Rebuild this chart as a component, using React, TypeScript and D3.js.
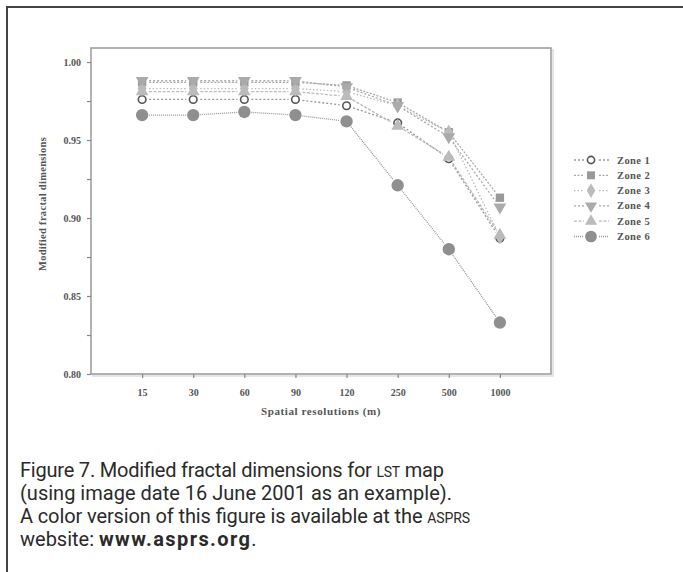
import React, { useEffect, useRef } from "react";
import * as d3 from "d3";

const resolutions = ["15", "30", "60", "90", "120", "250", "500", "1000"];
const zoneNames = ["Zone 1", "Zone 2", "Zone 3", "Zone 4", "Zone 5", "Zone 6"];
const zone1 = [0.976, 0.976, 0.976, 0.976, 0.972, 0.961, 0.938, 0.887];
const zone2 = [0.987, 0.987, 0.987, 0.987, 0.985, 0.974, 0.955, 0.913];
const zone3 = [0.983, 0.983, 0.983, 0.983, 0.981, 0.972, 0.955, 0.888];
const zone4 = [0.988, 0.988, 0.988, 0.988, 0.984, 0.972, 0.952, 0.907];
const zone5 = [0.981, 0.981, 0.981, 0.981, 0.978, 0.959, 0.939, 0.889];
const zone6 = [0.966, 0.966, 0.968, 0.966, 0.962, 0.921, 0.88, 0.833];
const yTickLabels = ["0.80", "0.85", "0.90", "0.95", "1.00"];

const App = () => {
  const svgRef = useRef(null);

  useEffect(() => {
    const svg = d3.select(svgRef.current);
    svg.selectAll("*").remove();

    const left = 91, right = 551, top = 48, bottom = 374;
    const serif = "'Liberation Serif', 'DejaVu Serif', serif";

    const x = d3.scaleLinear().domain([0, resolutions.length + 1]).range([left, right]);
    const y = d3.scaleLinear().domain([0.8, 1.009]).range([bottom, top]);

    // outer frame (only top + left edge visible)
    svg.append("line").attr("x1", 6).attr("x2", 683).attr("y1", 7).attr("y2", 7)
      .attr("stroke", "#444").attr("stroke-width", 2);
    svg.append("line").attr("x1", 7).attr("x2", 7).attr("y1", 7).attr("y2", 572)
      .attr("stroke", "#444").attr("stroke-width", 2);

    // plot box with a faint shadow
    svg.append("rect").attr("x", left + 2).attr("y", top + 2)
      .attr("width", right - left).attr("height", bottom - top)
      .attr("fill", "none").attr("stroke", "#ddd").attr("stroke-width", 1.5);
    svg.append("rect").attr("x", left).attr("y", top)
      .attr("width", right - left).attr("height", bottom - top)
      .attr("fill", "#fff").attr("stroke", "#999").attr("stroke-width", 1.5);

    // y axis
    const yTicks = d3.range(0, 9).map((i) => 0.8 + i * 0.025);
    const yAxis = svg.append("g")
      .attr("transform", "translate(" + left + ",0)")
      .call(d3.axisLeft(y).tickValues(yTicks).tickSize(4).tickSizeOuter(0)
        .tickFormat((d, i) => (i % 2 === 0 ? yTickLabels[i / 2] : "")));
    yAxis.select(".domain").remove();
    yAxis.selectAll("line").attr("stroke", "#888").attr("stroke-width", 1.2);
    yAxis.selectAll("text").attr("x", -10).style("font-family", serif)
      .style("font-size", "10px").style("font-weight", "bold").attr("fill", "#555");

    // x axis
    const xAxis = svg.append("g")
      .attr("transform", "translate(0," + bottom + ")")
      .call(d3.axisBottom(x).tickValues(d3.range(1, resolutions.length + 1))
        .tickSize(4).tickSizeOuter(0).tickFormat((d) => resolutions[d - 1]));
    xAxis.select(".domain").remove();
    xAxis.selectAll("line").attr("stroke", "#888").attr("stroke-width", 1.2);
    xAxis.selectAll("text").attr("y", 15).style("font-family", serif)
      .style("font-size", "10px").style("font-weight", "bold").attr("fill", "#555");

    svg.append("text").attr("x", 321).attr("y", 415).attr("text-anchor", "middle")
      .style("font-family", serif).style("font-size", "11px").style("font-weight", "bold")
      .style("letter-spacing", "0.6px").attr("fill", "#555").text("Spatial resolutions (m)");
    svg.append("text").attr("transform", "translate(46,204) rotate(-90)")
      .attr("text-anchor", "middle")
      .style("font-family", serif).style("font-size", "10.5px").style("font-weight", "bold")
      .style("letter-spacing", "0.3px").attr("fill", "#555").text("Modified fractal dimensions");

    const series = [zone1, zone2, zone3, zone4, zone5, zone6];
    const styles = [
      { shape: d3.symbolCircle, size: 45, fill: "#fff", stroke: "#555", sw: 1.6, rot: 0, dash: "2,2", lc: "#999" },
      { shape: d3.symbolSquare, size: 70, fill: "#999", stroke: "#999", sw: 0, rot: 0, dash: "2,1.5", lc: "#aaa" },
      { shape: d3.symbolDiamond, size: 70, fill: "#bbb", stroke: "#bbb", sw: 0, rot: 0, dash: "1.5,2", lc: "#bbb" },
      { shape: d3.symbolTriangle, size: 70, fill: "#aaa", stroke: "#aaa", sw: 0, rot: 180, dash: "2,2", lc: "#aaa" },
      { shape: d3.symbolTriangle, size: 70, fill: "#bbb", stroke: "#bbb", sw: 0, rot: 0, dash: "3,1.5", lc: "#bbb" },
      { shape: d3.symbolCircle, size: 120, fill: "#8f8f8f", stroke: "#8f8f8f", sw: 0, rot: 0, dash: "1,1", lc: "#999" },
    ];
    const gap = 7;

    series.forEach((vals, s) => {
      const st = styles[s];
      const g = svg.append("g");
      const pts = vals.map((v, i) => [x(i + 1), y(v)]);
      for (let i = 0; i < pts.length - 1; i++) {
        const [x0, y0] = pts[i];
        const [x1, y1] = pts[i + 1];
        const len = Math.hypot(x1 - x0, y1 - y0);
        const ux = (x1 - x0) / len, uy = (y1 - y0) / len;
        g.append("line")
          .attr("x1", x0 + ux * gap).attr("y1", y0 + uy * gap)
          .attr("x2", x1 - ux * gap).attr("y2", y1 - uy * gap)
          .attr("stroke", st.lc).attr("stroke-width", 1.3)
          .attr("stroke-dasharray", st.dash);
      }
      g.selectAll("path").data(pts).enter().append("path")
        .attr("d", d3.symbol().type(st.shape).size(st.size)())
        .attr("transform", (d) => "translate(" + d[0] + "," + d[1] + ") rotate(" + st.rot + ")")
        .attr("fill", st.fill).attr("stroke", st.stroke).attr("stroke-width", st.sw);

      // legend
      const ly = 160 + s * 15.3;
      const lg = svg.append("g");
      lg.append("line").attr("x1", 574).attr("x2", 584).attr("y1", ly).attr("y2", ly)
        .attr("stroke", st.lc).attr("stroke-width", 1.3).attr("stroke-dasharray", st.dash);
      lg.append("line").attr("x1", 599).attr("x2", 609).attr("y1", ly).attr("y2", ly)
        .attr("stroke", st.lc).attr("stroke-width", 1.3).attr("stroke-dasharray", st.dash);
      lg.append("path")
        .attr("d", d3.symbol().type(st.shape).size(st.size * 0.9)())
        .attr("transform", "translate(591," + ly + ") rotate(" + st.rot + ")")
        .attr("fill", st.fill).attr("stroke", st.stroke).attr("stroke-width", st.sw);
      lg.append("text").attr("x", 617).attr("y", ly + 3.5)
        .style("font-family", serif).style("font-size", "10.5px").style("font-weight", "bold")
        .style("letter-spacing", "0.4px").attr("fill", "#555").text(zoneNames[s]);
    });

    // caption
    const sans = "Roboto, 'Liberation Sans', sans-serif";
    const cap = svg.append("g").style("font-family", sans).style("font-size", "20px").attr("fill", "#2a2a2a");
    const l1 = cap.append("text").attr("x", 20).attr("y", 477)
      .attr("textLength", 424).attr("lengthAdjust", "spacing");
    l1.append("tspan").text("Figure 7. Modified fractal dimensions for ");
    l1.append("tspan").style("font-size", "14px").text("LST");
    l1.append("tspan").text(" map");
    cap.append("text").attr("x", 20).attr("y", 500)
      .attr("textLength", 432).attr("lengthAdjust", "spacing")
      .text("(using image date 16 June 2001 as an example).");
    const l3 = cap.append("text").attr("x", 20).attr("y", 523)
      .attr("textLength", 450).attr("lengthAdjust", "spacing");
    l3.append("tspan").text("A color version of this figure is available at the ");
    l3.append("tspan").style("font-size", "14px").text("ASPRS");
    const l4 = cap.append("text").attr("x", 20).attr("y", 546);
    l4.append("tspan").text("website: ");
    l4.append("tspan").style("font-weight", "bold").style("letter-spacing", "1.4px").text("www.asprs.org");
    l4.append("tspan").text(".");
  }, []);

  return (
    <div style={{ position: "absolute", left: 0, top: 0 }}>
      <svg ref={svgRef} width="683" height="572" style={{ display: "block", background: "#fff" }}></svg>
    </div>
  );
};

export default App;
